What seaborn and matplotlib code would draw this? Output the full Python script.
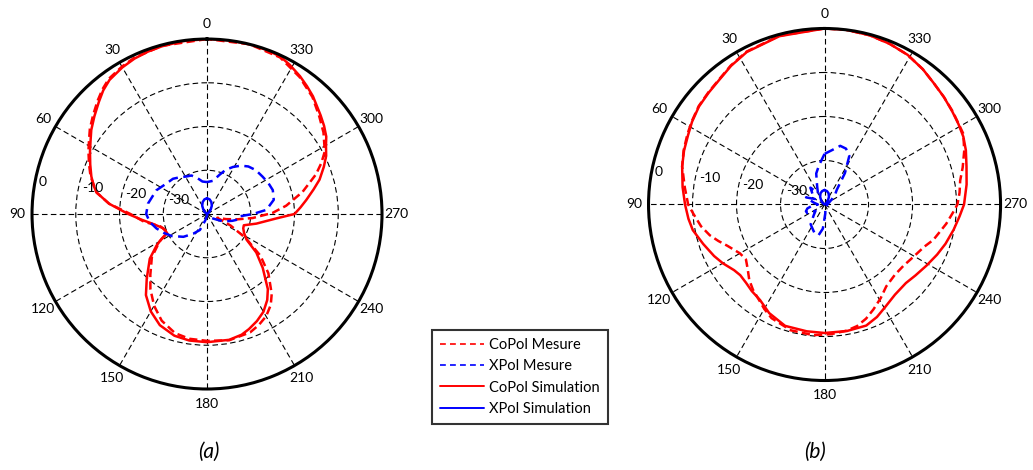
import numpy as np
import matplotlib
matplotlib.use("Agg")
import matplotlib.pyplot as plt
import seaborn as sns
from matplotlib.lines import Line2D

# ---------------- data (dB vs angle in degrees) ----------------
THETA_TICKS = [0, 30, 60, 90, 120, 150, 180, 210, 240, 270, 300, 330]
R_TICKS = [-30, -20, -10, 0]
R_MIN, R_MAX = -40, 0
LEGEND_LABELS = ["CoPol Mesure", "XPol Mesure", "CoPol Simulation", "XPol Simulation"]
CAPTIONS = ["(a)", "(b)"]

# (a) CoPol simulation
a_cosim_ang = [0, 8, 15, 20, 25, 30, 36, 40, 44, 49, 54, 58, 62, 67, 72, 76, 79, 84, 90, 95, 100, 108,
               113, 115.6, 118.6, 122, 128, 137, 143, 150, 157, 165, 172, 180, 190, 196, 200, 205, 210,
               215, 219, 226, 232, 237, 243, 248.5, 253, 259, 266.5, 270, 274, 278, 283, 287, 292, 296,
               300, 303, 307, 311, 318, 322, 326, 331, 335, 340, 346, 353, 360]
a_cosim_db = [0, -0.1, -0.3, -0.5, -0.8, -1.3, -2.1, -3.1, -4.4, -5.9, -7.3, -8.6, -9.7, -11.0, -12.2,
              -13.3, -14.3, -17.5, -22.0, -25.0, -27.3, -29.5, -29.8, -29.9, -28.2, -26.4, -23.4, -19.8,
              -16.8, -14.3, -12.4, -11.2, -10.8, -10.7, -10.8, -11.3, -12.0, -13.0, -14.2, -16.0, -17.9,
              -22.3, -25.7, -29.2, -30.5, -31.1, -31.2, -28.5, -24.0, -20.0, -18.6, -17.1, -15.0, -13.1,
              -11.2, -9.7, -8.6, -7.5, -6.5, -5.6, -3.8, -2.9, -2.0, -1.0, -0.3, -0.1, 0, 0, 0]
# (a) CoPol measured
a_comes_ang = [0, 15, 25, 30, 36, 40, 44, 49, 54, 58, 62, 67, 72, 79, 84, 90, 97, 105, 112, 116, 120, 128,
               137, 143, 150, 157, 165, 172, 180, 190, 200, 205, 210, 215, 219, 226, 232, 238, 244, 250,
               255, 260, 265, 271, 276, 283, 290, 294, 298, 305, 311, 318, 326, 335, 346, 360]
a_comes_db = [0, -0.2, -0.6, -1.1, -1.8, -2.8, -4.0, -5.5, -6.9, -8.2, -9.3, -10.7, -12.0, -14.3, -17.5,
              -22.5, -25.5, -29.0, -29.8, -29.6, -27.5, -24.0, -21.0, -18.5, -15.8, -13.5, -11.8, -11.2,
              -11.0, -10.7, -11.2, -12.0, -13.0, -14.6, -16.5, -20.5, -24.5, -29.5, -34.0, -37.5, -35.5,
              -33.0, -29.5, -25.0, -21.8, -17.6, -13.5, -11.4, -9.5, -7.5, -6.0, -4.0, -2.2, -0.5, 0, 0]
# (a) XPol measured
a_xmes_ang = [0, 8, 15, 22, 29, 37, 44, 53, 65, 80, 90, 98, 106, 114, 122, 134, 145, 156, 165, 175, 185,
              200, 215, 230, 245, 255, 260, 266, 270, 274, 282, 290, 297, 304, 312, 319, 325, 331, 337,
              342, 350, 360]
a_xmes_db = [-32.7, -32.5, -31.5, -30.5, -30.2, -29.5, -28.8, -28.4, -27.2, -26.3, -26.1, -26.8, -28.0,
             -29.3, -30.5, -32.5, -34.5, -36.0, -38.5, -39.5, -39.8, -39.5, -39.0, -38.5, -36.0, -34.0,
             -32.8, -32.5, -29.5, -26.4, -24.4, -24.0, -24.3, -24.7, -25.0, -25.6, -26.5, -27.7, -29.0,
             -30.5, -32.3, -32.7]
# (a) XPol simulation
a_xsim_ang = [0, 10, 20, 30, 40, 50, 60, 90, 180, 270, 300, 310, 320, 330, 340, 350, 360]
a_xsim_db = [-36.4, -36.6, -37.1, -37.8, -38.7, -39.4, -40, -40, -40, -40, -40, -39.4, -38.7, -37.8,
             -37.1, -36.6, -36.4]

# (b) CoPol simulation
b_cosim_ang = [0, 15, 27, 34, 40, 46, 52, 58, 63, 69, 75, 83, 90, 96, 101, 108, 115, 120, 126, 130, 135,
               140, 146, 153, 162, 172, 180, 190, 199, 205, 211, 218, 226, 232, 239, 246, 252, 259, 265,
               270, 278, 285, 291, 296, 301, 306, 312, 318, 324, 331, 338, 345, 353, 360]
b_cosim_db = [0, -0.4, -1.1, -2.0, -2.9, -3.4, -3.8, -4.5, -5.2, -5.8, -6.5, -7.5, -8.3, -8.9, -9.5, -11.0,
              -12.3, -13.3, -14.6, -15.0, -14.8, -14.3, -13.8, -12.3, -11.0, -10.9, -10.8, -10.8, -10.9,
              -11.8, -13.0, -14.0, -14.3, -13.8, -13.0, -12.0, -11.1, -10.1, -9.2, -8.3, -7.4, -6.6, -5.6,
              -4.9, -4.5, -4.1, -3.5, -2.9, -2.0, -1.1, -0.6, -0.2, 0, 0]
# (b) CoPol measured
b_comes_ang = [0, 15, 27, 34, 40, 46, 52, 58, 63, 69, 75, 83, 90, 94, 100, 105, 109, 113, 117, 120, 125,
               130, 135, 140, 145, 150, 155, 165, 175, 183, 190, 195, 200, 205, 211, 217, 225, 232, 240,
               247, 252, 257, 261, 267, 270, 275, 280, 285, 291, 297, 306, 312, 318, 324, 331, 338, 345,
               353, 360]
b_comes_db = [0, -0.3, -1.0, -1.9, -2.8, -3.3, -3.7, -4.4, -5.0, -5.7, -6.5, -8.0, -9.0, -10.1, -11.5,
              -13.0, -14.5, -16.0, -17.1, -17.8, -18.2, -17.2, -15.8, -14.7, -13.8, -12.6, -11.5, -10.4,
              -10.2, -10.5, -10.9, -11.4, -12.4, -13.7, -15.2, -16.7, -17.4, -17.3, -16.5, -15.4, -14.0,
              -13.0, -12.0, -10.6, -9.8, -9.2, -8.7, -7.5, -6.0, -4.6, -4.0, -3.5, -2.9, -2.0, -1.1, -0.6,
              -0.2, 0, 0]
# (b) XPol measured
b_xmes_ang = [0, 8, 15, 22, 30, 40, 50, 60, 69, 80, 90, 97, 103, 110, 116, 125, 135, 145, 152, 160, 169,
              176, 185, 200, 240, 290, 305, 315, 320, 327, 333, 339, 345, 352, 360]
b_xmes_db = [-28.5, -31.0, -32.7, -35.5, -37.0, -35.0, -36.5, -37.5, -35.5, -37.5, -38.5, -37.0, -36.0,
             -35.5, -35.6, -37.5, -36.5, -34.5, -34.0, -33.2, -32.9, -34.5, -38.0, -39.5, -39.5, -39.0,
             -38.0, -36.5, -35.7, -31.5, -27.6, -26.4, -26.2, -27.5, -28.5]
# (b) XPol simulation
b_xsim_ang = [0, 10, 20, 30, 40, 50, 60, 90, 180, 270, 300, 310, 320, 330, 340, 350, 360]
b_xsim_db = [-36.7, -36.9, -37.3, -38.0, -38.8, -39.4, -40, -40, -40, -40, -40, -39.4, -38.8, -38.0,
             -37.3, -36.9, -36.7]

# ---------------- styling ----------------
sns.set_theme(style="white")
plt.rcParams["font.family"] = ["Lato", "DejaVu Sans"]
plt.rcParams["text.color"] = "black"

RED, BLUE = "#ff0000", "#0000ff"
LW = 1.8
RED_DASH = (0, (3.3, 1.7))
BLUE_DASH = (0, (4.0, 2.2))
FS = 10

fig = plt.figure(figsize=(10.33, 4.70), dpi=100)
ax_a = fig.add_axes([0.0310, 0.1723, 0.3388, 0.7447], projection="polar")
ax_b = fig.add_axes([0.6278, 0.1904, 0.3408, 0.7490], projection="polar")


def setup(ax):
    ax.set_theta_zero_location("N")
    ax.set_theta_direction(1)
    ax.set_thetagrids(THETA_TICKS, labels=[str(t) for t in THETA_TICKS])
    ax.set_yticks(R_TICKS)
    ax.set_yticklabels([])
    ax.set_ylim(R_MIN, R_MAX)
    ax.grid(True, color="black", linestyle=(0, (5, 3)), linewidth=0.8)
    ax.spines["polar"].set_linewidth(2.2)
    ax.spines["polar"].set_color("black")
    ax.tick_params(axis="x", pad=-2.5, labelsize=FS, colors="black")
    ax.set_xlabel("")
    ax.set_ylabel("")
    for r in R_TICKS:
        ax.annotate(str(r), xy=(np.deg2rad(82), r), xytext=(3.5, 5.5), textcoords="offset points",
                    ha="left", va="center", fontsize=FS, color="black", annotation_clip=False)


def draw(ax, cs_a, cs_d, cm_a, cm_d, xm_a, xm_d, xs_a, xs_d):
    sns.lineplot(x=np.deg2rad(cs_a), y=cs_d, ax=ax, sort=False, estimator=None,
                 color=RED, linewidth=LW)
    sns.lineplot(x=np.deg2rad(cm_a), y=cm_d, ax=ax, sort=False, estimator=None,
                 color=RED, linewidth=LW, linestyle=RED_DASH)
    sns.lineplot(x=np.deg2rad(xm_a), y=xm_d, ax=ax, sort=False, estimator=None,
                 color=BLUE, linewidth=LW, linestyle=BLUE_DASH)
    sns.lineplot(x=np.deg2rad(xs_a), y=xs_d, ax=ax, sort=False, estimator=None,
                 color=BLUE, linewidth=LW)
    setup(ax)


draw(ax_a, a_cosim_ang, a_cosim_db, a_comes_ang, a_comes_db, a_xmes_ang, a_xmes_db,
     a_xsim_ang, a_xsim_db)
draw(ax_b, b_cosim_ang, b_cosim_db, b_comes_ang, b_comes_db, b_xmes_ang, b_xmes_db,
     b_xsim_ang, b_xsim_db)

handles = [
    Line2D([], [], color=RED, linewidth=1.2, linestyle=(0, (3.5, 2.5))),
    Line2D([], [], color=BLUE, linewidth=1.2, linestyle=(0, (3.5, 2.5))),
    Line2D([], [], color=RED, linewidth=1.4),
    Line2D([], [], color=BLUE, linewidth=1.4),
]
leg = fig.legend(handles, LEGEND_LABELS, loc="upper left", bbox_to_anchor=(0.418, 0.298),
                 frameon=True, fancybox=False, edgecolor="black", fontsize=10.5,
                 handlelength=3.0, handletextpad=0.4, labelspacing=0.5, borderpad=0.55,
                 borderaxespad=0.0)
leg.get_frame().set_linewidth(1.5)

fig.text(209 / 1033, 1 - 452 / 470, CAPTIONS[0], ha="center", va="center", fontsize=15, style="italic")
fig.text(815 / 1033, 1 - 452 / 470, CAPTIONS[1], ha="center", va="center", fontsize=15, style="italic")

fig.savefig("out.png", dpi=100)
